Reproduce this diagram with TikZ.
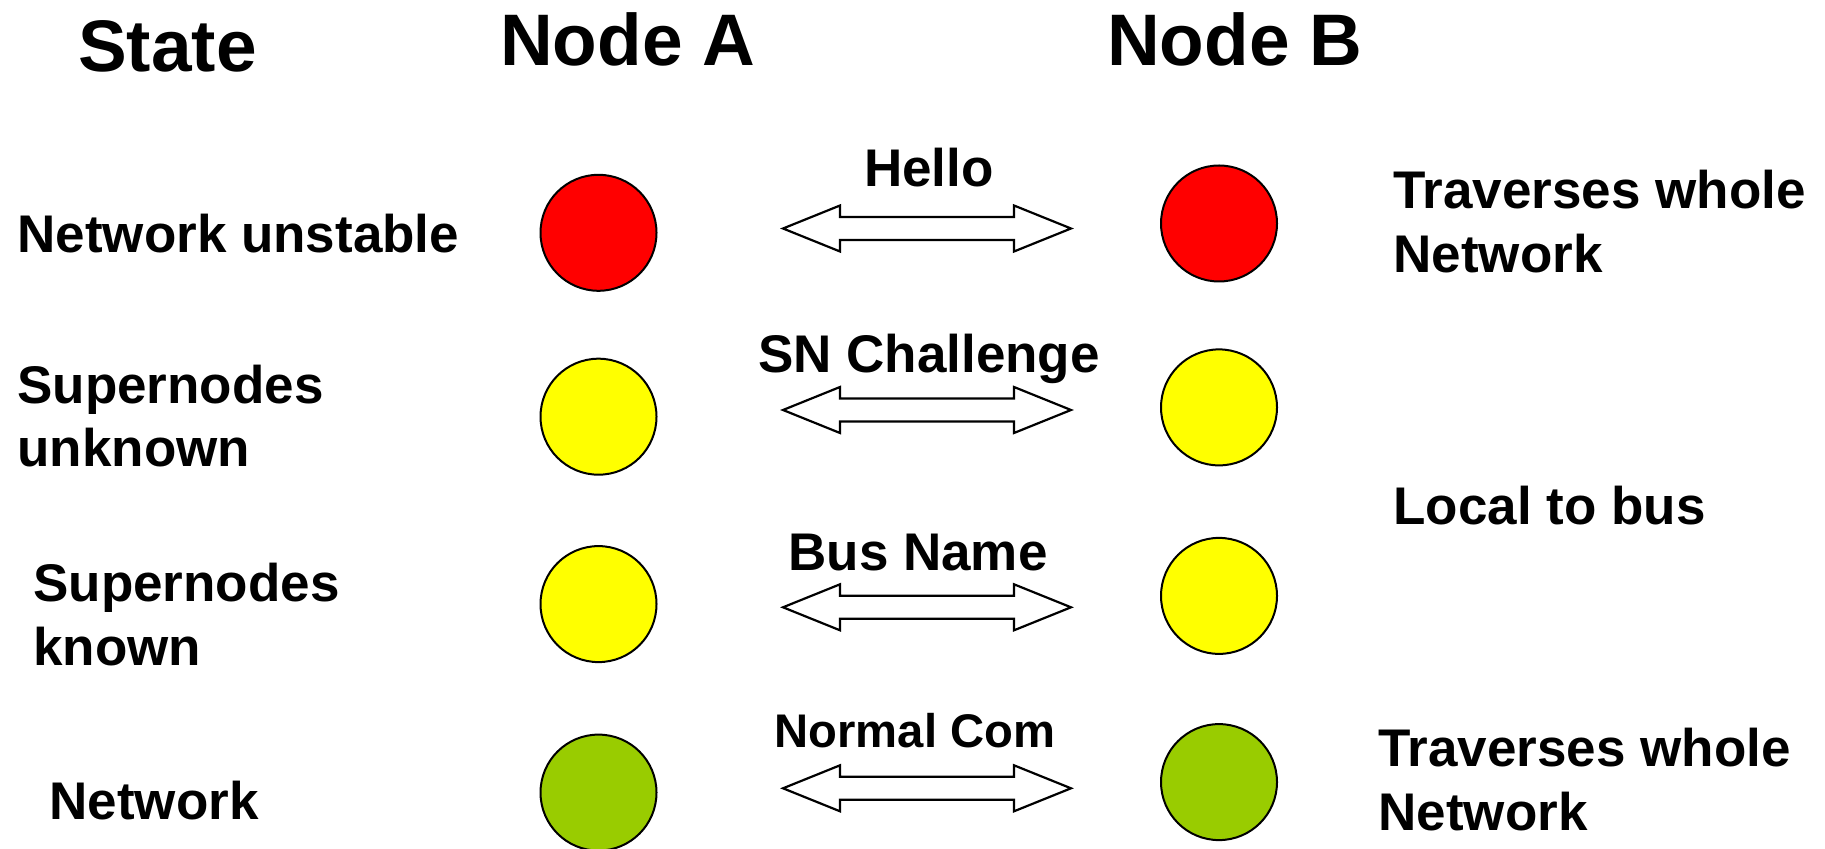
\documentclass[tikz,border=0pt]{standalone}
\usepackage{fontspec}
\setmainfont{Liberation Sans}
\definecolor{stRed}{HTML}{FF0000}
\definecolor{stYellow}{HTML}{FFFF00}
\definecolor{stGreen}{HTML}{99CC00}
\tikzset{
  head/.style={font=\fontsize{36.5}{44}\selectfont\bfseries, inner sep=0pt, anchor=base},
  lbl/.style={font=\fontsize{26.5}{32}\selectfont\bfseries, inner sep=0pt, anchor=base west, align=left},
  msg/.style={font=\fontsize{26.5}{32}\selectfont\bfseries, inner sep=0pt, anchor=base},
  lamp/.style={circle, draw=black, line width=1pt, minimum size=58pt, inner sep=0pt},
  msgarrow/.style={draw=black, fill=white, line width=1.1pt, line join=miter},
}
% outlined double-headed arrow centred on a coordinate
\newcommand{\msgarrowat}[1]{%
  \draw[msgarrow] (#1) ++(-144,0) -- ++(57,-23) -- ++(0,11.5) -- ++(174,0)
    -- ++(0,-11.5) -- ++(57,23) -- ++(-57,23) -- ++(0,-11.5) -- ++(-174,0)
    -- ++(0,11.5) -- cycle;}
\begin{document}
\begin{tikzpicture}[x=0.5pt, y=-0.5pt]
\useasboundingbox (0,0) rectangle (1825,849);

% column headings
\node[head] (hState) at (167.5,72) {State};
\node[head] (hA) at (628,66) {Node A};
\node[head] (hB) at (1235,66) {Node B};

% state descriptions
\node[lbl] (s1) at (17,253) {Network unstable};
\node[lbl] (s2) at (17,467) {Supernodes\\unknown};
\node[lbl] (s3) at (33,665) {Supernodes\\known};
\node[lbl] (s4) at (49,819) {Network};

% scope of each message
\node[lbl] (r1) at (1393,273) {Traverses whole\\Network};
\node[lbl] (r2) at (1393,525) {Local to bus};
\node[lbl] (r3) at (1378,830) {Traverses whole\\Network};

% node A lamps
\node[lamp, fill=stRed]    (a1) at (598.5,232.8) {};
\node[lamp, fill=stYellow] (a2) at (598.5,416.7) {};
\node[lamp, fill=stYellow] (a3) at (598.5,604.1) {};
\node[lamp, fill=stGreen]  (a4) at (598.5,792.6) {};

% node B lamps
\node[lamp, fill=stRed]    (b1) at (1219,223.5) {};
\node[lamp, fill=stYellow] (b2) at (1219,407.4) {};
\node[lamp, fill=stYellow] (b3) at (1219,595.9) {};
\node[lamp, fill=stGreen]  (b4) at (1219,782.1) {};

% exchanged messages
\coordinate (m1) at (927,228.5);
\coordinate (m2) at (927,410);
\coordinate (m3) at (927,607.3);
\coordinate (m4) at (927,788.3);
\msgarrowat{m1}
\msgarrowat{m2}
\msgarrowat{m3}
\msgarrowat{m4}
\node[msg] (t1) at (929,187) {Hello};
\node[msg] (t2) at (929,373) {SN Challenge};
\node[msg] (t3) at (918,570) {Bus Name};
\node[msg, font=\fontsize{23.6}{28}\selectfont\bfseries] (t4) at (915,747) {Normal Com};
\end{tikzpicture}
\end{document}
